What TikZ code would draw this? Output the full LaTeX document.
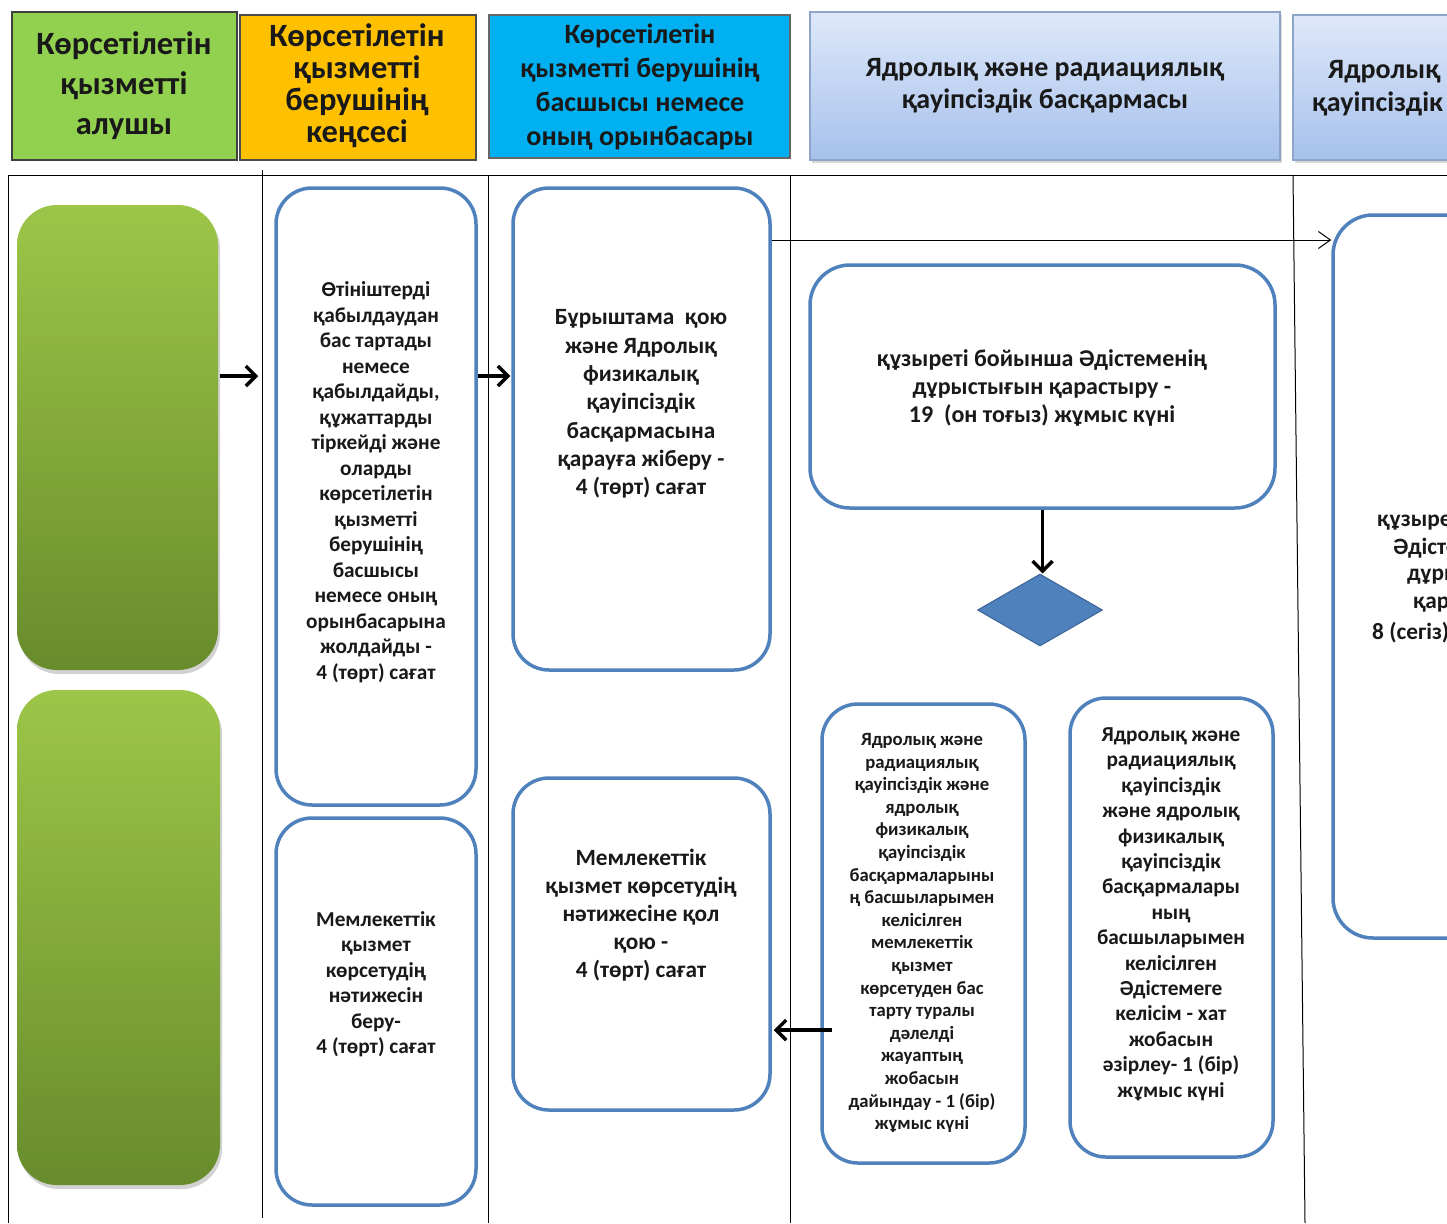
\documentclass[tikz,border=0pt]{standalone}
\usepackage{fontspec}
\setmainfont{Carlito}
\usetikzlibrary{arrows.meta,shapes.geometric,shadows}
\definecolor{pblue}{RGB}{79,129,189}
\definecolor{gtop}{RGB}{156,198,72}
\definecolor{gbot}{RGB}{104,140,44}
\definecolor{hgreen}{RGB}{146,208,80}
\definecolor{horange}{RGB}{255,192,0}
\definecolor{hcyan}{RGB}{0,176,240}
\definecolor{htop}{RGB}{222,232,249}
\definecolor{hbot}{RGB}{166,193,236}
\definecolor{hedge}{RGB}{140,165,200}
\definecolor{dfill}{RGB}{79,129,189}
\definecolor{dedge}{RGB}{58,100,150}
\definecolor{ink}{RGB}{25,25,25}
\tikzset{
  pbox/.style={draw=pblue, line width=3.5pt, rounded corners=36pt, fill=white, inner sep=0pt},
  gbox/.style={rounded corners=40pt, top color=gtop, bottom color=gbot, draw=none, inner sep=0pt,
    drop shadow={opacity=0.35, shadow xshift=2pt, shadow yshift=-4pt}},
  hbox/.style={inner sep=0pt, line width=1.2pt},
  lbox/.style={hbox, top color=htop, bottom color=hbot, draw=hedge,
    drop shadow={opacity=0.3, shadow xshift=2pt, shadow yshift=-3pt}},
  txt/.style={align=center, font=\bfseries, inner sep=0pt, text=ink},
  lane/.style={line width=1pt, black},
  thk/.style={line width=3.5pt, -{Straight Barb[length=10pt, width=20pt, line width=3.5pt]}},
  thn/.style={line width=0.9pt, -{Straight Barb[length=12pt, width=17pt, line width=1pt]}}
}
\begin{document}
\begin{tikzpicture}[x=1pt, y=-1pt]
\clip (0,0) rectangle (1447,1223);
\fill[white] (0,0) rectangle (1447,1223);

% headers
\node[hbox, fill=hgreen, draw=black!75, minimum width=225pt, minimum height=148pt] (h1) at (124.5,86) {};
\node[txt, font=\bfseries\fontsize{32.5}{40}\selectfont] (h1t) at (124,86) {Көрсетілетін\\қызметті\\алушы};
\node[hbox, fill=horange, draw=black!70, minimum width=236pt, minimum height=145pt] (h2) at (358,87.5) {};
\node[txt, font=\bfseries\fontsize{32.5}{32}\selectfont] (h2t) at (357,86) {Көрсетілетін\\қызметті\\берушінің\\кеңсесі};
\node[hbox, fill=hcyan, draw=black!60, minimum width=301pt, minimum height=143pt] (h3) at (639.5,86.5) {};
\node[txt, font=\bfseries\fontsize{28}{34}\selectfont] (h3t) at (640,87) {Көрсетілетін\\қызметті берушінің\\басшысы немесе\\оның орынбасары};
\node[lbox, minimum width=470pt, minimum height=148pt] (h4) at (1045,86) {};
\node[txt, font=\bfseries\fontsize{28}{32}\selectfont] (h4t) at (1045,86) {Ядролық және радиациялық\\қауіпсіздік басқармасы};
\node[lbox, minimum width=300pt, minimum height=145pt] (h5) at (1443,87.5) {};
\node[txt, anchor=west, font=\bfseries\fontsize{28}{32}\selectfont] (h5a) at (1328,72) {Ядролық};
\node[txt, anchor=west, font=\bfseries\fontsize{28}{32}\selectfont] (h5b) at (1312,104) {қауіпсіздік};

% lanes
\draw[lane] (8,175) -- (1447,175);
\draw[lane] (8,175) -- (8,1223);
\draw[lane] (262,170) -- (262,1218);
\draw[lane] (488,175) -- (488,1223);
\draw[lane] (790,175) -- (790,1223);
\draw[lane] (1293,175) -- (1305,1223);

% actor boxes
\node[gbox, minimum width=201pt, minimum height=465pt] (g1) at (117.5,437.5) {};
\node[gbox, minimum width=203pt, minimum height=495pt] (g2) at (118.5,937.5) {};

% process boxes
\node[pbox, minimum width=200pt, minimum height=617pt] (b1) at (376,496.5) {};
\node[txt, font=\bfseries\fontsize{21.3}{25.5}\selectfont] (b1t) at (376,482) {Өтініштерді\\қабылдаудан\\бас тартады\\немесе\\қабылдайды,\\құжаттарды\\тіркейді және\\оларды\\көрсетілетін\\қызметті\\берушінің\\басшысы\\немесе оның\\орынбасарына\\жолдайды -\\4 (төрт) сағат};

\node[pbox, minimum width=200pt, minimum height=387pt] (b2) at (376,1011.5) {};
\node[txt, font=\bfseries\fontsize{21.3}{25.5}\selectfont] (b2t) at (376,984) {Мемлекеттік\\қызмет\\көрсетудің\\нәтижесін\\беру-\\4 (төрт) сағат};

\node[pbox, minimum width=257pt, minimum height=482pt] (b3) at (641.5,429) {};
\node[txt, font=\bfseries\fontsize{23.3}{28.3}\selectfont] (b3t) at (641,404) {Бұрыштама\ \ қою\\және Ядролық\\физикалық\\қауіпсіздік\\басқармасына\\қарауға жіберу -\\4 (төрт) сағат};

\node[pbox, minimum width=257pt, minimum height=332pt] (b4) at (641.5,944) {};
\node[txt, font=\bfseries\fontsize{23.3}{28}\selectfont] (b4t) at (641,915) {Мемлекеттік\\қызмет көрсетудің\\нәтижесіне қол\\қою -\\4 (төрт) сағат};

\node[pbox, rounded corners=40pt, minimum width=465pt, minimum height=243pt] (b5) at (1042.5,386.5) {};
\node[txt, font=\bfseries\fontsize{24}{28}\selectfont] (b5t) at (1042,388) {құзыреті бойынша Әдістеменің\\дұрыстығын қарастыру -\\19\ \ (он тоғыз) жұмыс күні};

\node[diamond, fill=dfill, draw=dedge, line width=1pt, minimum width=125pt, minimum height=72pt, inner sep=0pt] (dia) at (1040,610) {};

\node[pbox, minimum width=203pt, minimum height=459pt] (b6) at (923.5,933.5) {};
\node[txt, font=\bfseries\fontsize{18.7}{22.6}\selectfont] (b6t) at (922,933) {Ядролық және\\радиациялық\\қауіпсіздік және\\ядролық\\физикалық\\қауіпсіздік\\басқармаларыны\\ң басшыларымен\\келісілген\\мемлекеттік\\қызмет\\көрсетуден бас\\тарту туралы\\дәлелді\\жауаптың\\жобасын\\дайындау - 1 (бір)\\жұмыс күні};

\node[pbox, minimum width=203pt, minimum height=459pt] (b7) at (1171.5,927.5) {};
\node[txt, font=\bfseries\fontsize{21.3}{25.4}\selectfont] (b7t) at (1171,914) {Ядролық және\\радиациялық\\қауіпсіздік\\және ядролық\\физикалық\\қауіпсіздік\\басқармалары\\ның\\басшыларымен\\келісілген\\Әдістемеге\\келісім - хат\\жобасын\\әзірлеу- 1 (бір)\\жұмыс күні};

\node[pbox, rounded corners=40pt, minimum width=300pt, minimum height=723pt] (b8) at (1483,576.5) {};
\node[txt, anchor=west, font=\bfseries\fontsize{23.3}{28}\selectfont] (b8a) at (1377,520) {құзыреті};
\node[txt, anchor=west, font=\bfseries\fontsize{23.3}{28}\selectfont] (b8b) at (1393,548) {Әдістеменің};
\node[txt, anchor=west, font=\bfseries\fontsize{23.3}{28}\selectfont] (b8c) at (1407,577) {дұрыстығын};
\node[txt, anchor=west, font=\bfseries\fontsize{23.3}{28}\selectfont] (b8d) at (1413,605) {қарастыру};
\node[txt, anchor=west, font=\bfseries\fontsize{23.3}{28}\selectfont] (b8e) at (1372,633) {8 (сегіз)};

% connectors
\coordinate (r1) at (0,376);
\coordinate (r2) at (0,240);
\coordinate (r3) at (0,1030);
\draw[thk, shorten <=2pt, shorten >=16pt] (g1.east |- r1) -- (b1.west |- r1);
\draw[thk, shorten >=1pt] (b1.east |- r1) -- (b3.west |- r1);
\draw[thn] (b3.east |- r2) -- (b8.west |- r2);
\draw[thk] (b5.south) -- (b5.south |- dia.north);
\draw[thk, shorten <=-12pt, shorten >=2pt] (b6.west |- r3) -- (b4.east |- r3);
\end{tikzpicture}
\end{document}
